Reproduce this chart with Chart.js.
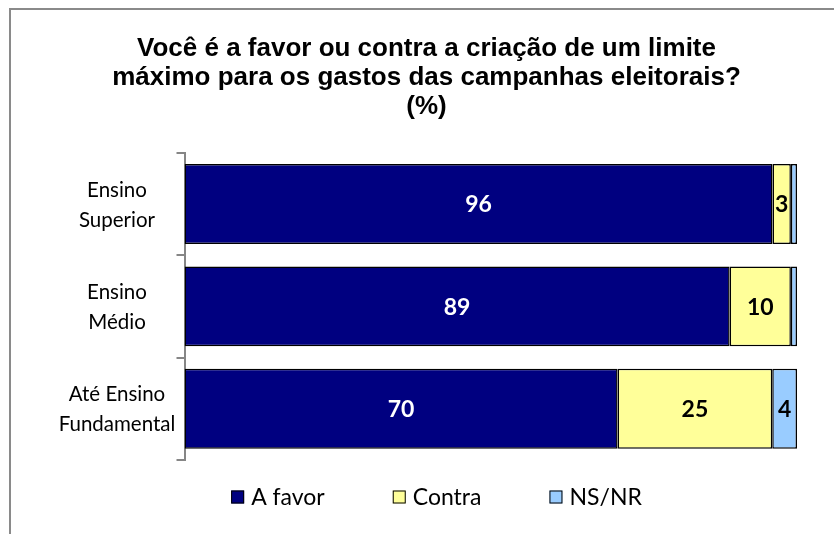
<!DOCTYPE html>
<html>
<head>
<meta charset="utf-8">
<script src="https://cdn.jsdelivr.net/npm/chart.js@4/dist/chart.umd.min.js"></script>
<style>
  html, body { margin: 0; padding: 0; background: #ffffff; }
  #wrap { width: 834px; height: 534px; position: relative; }
</style>
</head>
<body>
<div id="wrap"><canvas id="c" width="834" height="534"></canvas></div>
<script>
// ---- data ----
const categories = [["Ensino", "Superior"], ["Ensino", "Médio"], ["Até Ensino", "Fundamental"]];
const seriesNames = ["A favor", "Contra", "NS/NR"];
const aFavor = [96, 89, 70];
const contra = [3, 10, 25];
const nsnr = [1, 1, 4];
const titleLines = ["Você é a favor ou contra a criação de um limite", "máximo para os gastos das campanhas eleitorais?", "(%)"];

const rawSeries = [aFavor, contra, nsnr];
const colors = ["#000080", "#FFFF99", "#99CCFF"];

// 100% stacked: each bar drawn as share of its category total
const totals = categories.map((_, j) => rawSeries.reduce((s, arr) => s + arr[j], 0));
const shares = rawSeries.map(arr => arr.map((v, j) => v / totals[j] * 100));

const LABEL_FONT = "Lato, 'Open Sans', sans-serif";
const CAT_SIZE = 20.5;
const CAT_LINE = 30;
const LEG_SIZE = 23;
const AXIS_RIGHT = 184.5, LAYOUT_LEFT = 56, TICK_LEN = 8, LABEL_CENTER = 117;

const framePlugin = {
  id: 'frame',
  beforeDraw(chart) {
    const ctx = chart.ctx;
    ctx.save();
    ctx.fillStyle = '#ffffff';
    ctx.fillRect(0, 0, chart.width, chart.height);
    ctx.strokeStyle = '#8a8a8a';
    ctx.lineWidth = 2;
    ctx.beginPath();
    ctx.moveTo(10, chart.height + 2);
    ctx.lineTo(10, 9);
    ctx.lineTo(chart.width + 2, 9);
    ctx.stroke();
    ctx.restore();
  }
};

// category labels: centred lines in the label area left of the axis
const categoryLabels = {
  id: 'categoryLabels',
  afterDraw(chart) {
    const ctx = chart.ctx;
    const y = chart.scales.y;
    ctx.save();
    ctx.font = CAT_SIZE + "px " + LABEL_FONT;
    ctx.fillStyle = '#000000';
    ctx.textAlign = 'center';
    ctx.textBaseline = 'middle';
    chart.data.labels.forEach((lines, j) => {
      const cy = y.getPixelForTick(j);
      lines.forEach((l, k) => {
        ctx.fillText(l, LABEL_CENTER, cy + (k - (lines.length - 1) / 2) * CAT_LINE + 1);
      });
    });
    ctx.restore();
  }
};

const valueLabels = {
  id: 'valueLabels',
  afterDatasetsDraw(chart) {
    const ctx = chart.ctx;
    ctx.save();
    ctx.font = "bold 23px " + LABEL_FONT;
    ctx.textAlign = 'center';
    ctx.textBaseline = 'middle';
    chart.data.datasets.forEach((ds, i) => {
      const meta = chart.getDatasetMeta(i);
      meta.data.forEach((el, j) => {
        const v = rawSeries[i][j];
        if (v < 2) return;
        const x = (el.x + el.base) / 2;
        ctx.fillStyle = i === 0 ? '#ffffff' : '#000000';
        ctx.fillText(String(v), x, el.y + 1);
      });
    });
    ctx.restore();
  }
};

// legend drawn below the plot, items spaced like the original
const bottomLegend = {
  id: 'bottomLegend',
  afterDraw(chart) {
    const ctx = chart.ctx;
    const box = 13, gapText = 7, gapItem = 68, cy = 497;
    ctx.save();
    ctx.font = LEG_SIZE + "px " + LABEL_FONT;
    ctx.textBaseline = 'middle';
    ctx.textAlign = 'left';
    const items = chart.data.datasets.map(ds => ({ text: ds.label, color: ds.backgroundColor, w: ctx.measureText(ds.label).width }));
    let total = 0;
    items.forEach((it, i) => { total += box + gapText + it.w + (i < items.length - 1 ? gapItem : 0); });
    const center = (LAYOUT_LEFT + 20 + chart.chartArea.right) / 2;
    let x = center - total / 2;
    items.forEach(it => {
      ctx.fillStyle = it.color;
      ctx.fillRect(x, cy - box / 2, box, box);
      ctx.strokeStyle = '#000000';
      ctx.lineWidth = 1;
      ctx.strokeRect(x + 0.5, cy - box / 2 + 0.5, box - 1, box - 1);
      ctx.fillStyle = '#000000';
      ctx.fillText(it.text, x + box + gapText, cy + 1);
      x += box + gapText + it.w + gapItem;
    });
    ctx.restore();
  }
};

new Chart(document.getElementById('c'), {
  type: 'bar',
  data: {
    labels: categories,
    datasets: seriesNames.map((name, i) => ({
      label: name,
      data: shares[i],
      backgroundColor: colors[i],
      borderColor: '#000000',
      borderWidth: 1.5,
      borderSkipped: false,
      categoryPercentage: 0.78,
      barPercentage: 1.0
    }))
  },
  options: {
    indexAxis: 'y',
    responsive: false,
    animation: false,
    devicePixelRatio: 1,
    layout: { padding: { left: LAYOUT_LEFT, right: 37, top: 0, bottom: 74 } },
    scales: {
      x: { stacked: true, min: 0, max: 100, display: false },
      y: {
        stacked: true,
        offset: true,
        grid: { offset: true, drawOnChartArea: false, drawTicks: true, tickLength: TICK_LEN, color: '#868686', lineWidth: 2 },
        border: { display: true, color: '#868686', width: 2 },
        ticks: { display: false },
        afterFit(s) { s.width = AXIS_RIGHT - LAYOUT_LEFT; }
      }
    },
    plugins: {
      title: {
        display: true,
        text: titleLines,
        color: '#000000',
        font: { family: "'Liberation Sans', Arial, sans-serif", size: 26, weight: 'bold', lineHeight: 1.1 },
        padding: { top: 35, bottom: 32 }
      },
      legend: { display: false },
      tooltip: { enabled: false }
    }
  },
  plugins: [framePlugin, valueLabels, categoryLabels, bottomLegend]
});
</script>
</body>
</html>
